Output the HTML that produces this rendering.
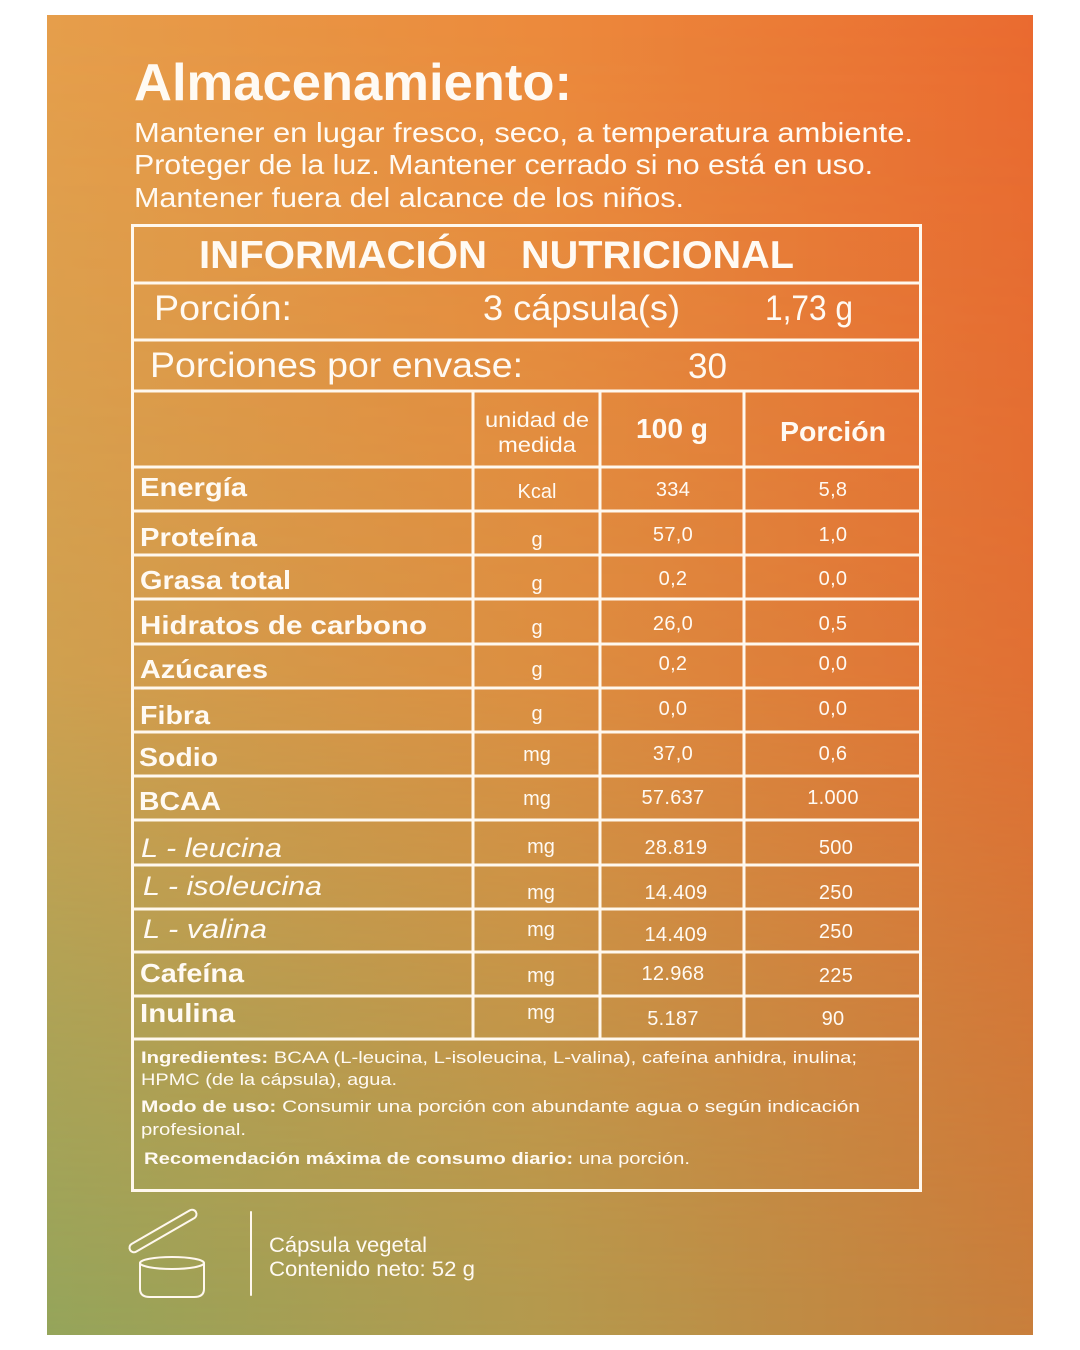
<!DOCTYPE html>
<html>
<head>
<meta charset="utf-8">
<style>
  html,body{margin:0;padding:0;background:#fff;}
  svg{display:block;}
  text{font-family:"Liberation Sans", sans-serif; fill:#FFFAF3;}
</style>
</head>
<body>
<svg width="1080" height="1350" viewBox="0 0 1080 1350" xmlns="http://www.w3.org/2000/svg">
  <defs>
    <linearGradient id="gTop" x1="0" y1="0" x2="1" y2="0">
      <stop offset="0" stop-color="#E69E4B"/>
      <stop offset="0.5" stop-color="#EC8A3C"/>
      <stop offset="1" stop-color="#EA6A30"/>
    </linearGradient>
    <linearGradient id="gBot" x1="0" y1="0" x2="1" y2="0">
      <stop offset="0" stop-color="#95A55B"/>
      <stop offset="0.5" stop-color="#B49A4E"/>
      <stop offset="1" stop-color="#C97F3C"/>
    </linearGradient>
    <linearGradient id="gMask" x1="0" y1="0" x2="0" y2="1">
      <stop offset="0" stop-color="#fff" stop-opacity="1"/>
      <stop offset="0.5" stop-color="#fff" stop-opacity="0.72"/>
      <stop offset="0.75" stop-color="#fff" stop-opacity="0.32"/>
      <stop offset="1" stop-color="#fff" stop-opacity="0"/>
    </linearGradient>
    <mask id="m" maskUnits="userSpaceOnUse" x="47" y="15" width="986" height="1320">
      <rect x="47" y="15" width="986" height="1320" fill="url(#gMask)"/>
    </mask>
  </defs>

  <rect x="0" y="0" width="1080" height="1350" fill="#ffffff"/>
  <rect x="47" y="15" width="986" height="1320" fill="url(#gBot)"/>
  <rect x="47" y="15" width="986" height="1320" fill="url(#gTop)" mask="url(#m)"/>

  <!-- Header text -->
  <text x="134" y="100" font-size="52" font-weight="bold" textLength="438" lengthAdjust="spacingAndGlyphs">Almacenamiento:</text>
  <text x="134" y="142" font-size="28" textLength="779" lengthAdjust="spacingAndGlyphs">Mantener en lugar fresco, seco, a temperatura ambiente.</text>
  <text x="134" y="174" font-size="28" textLength="739" lengthAdjust="spacingAndGlyphs">Proteger de la luz. Mantener cerrado si no está en uso.</text>
  <text x="134" y="207" font-size="28" textLength="550" lengthAdjust="spacingAndGlyphs">Mantener fuera del alcance de los niños.</text>

  <!-- Table lines -->
  <g stroke="#FFF8EE" stroke-width="3" fill="none">
    <rect x="132.5" y="225.5" width="788" height="965"/>
    <line x1="132" y1="283" x2="921" y2="283"/>
    <line x1="132" y1="340" x2="921" y2="340"/>
    <line x1="132" y1="391" x2="921" y2="391"/>
    <line x1="132" y1="467" x2="921" y2="467"/>
    <line x1="132" y1="511" x2="921" y2="511"/>
    <line x1="132" y1="555" x2="921" y2="555"/>
    <line x1="132" y1="599" x2="921" y2="599"/>
    <line x1="132" y1="644" x2="921" y2="644"/>
    <line x1="132" y1="688" x2="921" y2="688"/>
    <line x1="132" y1="732" x2="921" y2="732"/>
    <line x1="132" y1="776" x2="921" y2="776"/>
    <line x1="132" y1="820" x2="921" y2="820"/>
    <line x1="132" y1="865" x2="921" y2="865"/>
    <line x1="132" y1="909" x2="921" y2="909"/>
    <line x1="132" y1="952" x2="921" y2="952"/>
    <line x1="132" y1="996" x2="921" y2="996"/>
    <line x1="132" y1="1039" x2="921" y2="1039"/>
    <line x1="473" y1="391" x2="473" y2="1039"/>
    <line x1="600" y1="391" x2="600" y2="1039"/>
    <line x1="744" y1="391" x2="744" y2="1039"/>
  </g>

  <!-- Table title -->
  <text x="199" y="268" font-size="39" font-weight="bold" textLength="288" lengthAdjust="spacingAndGlyphs">INFORMACIÓN</text>
  <text x="521" y="268" font-size="39" font-weight="bold" textLength="273" lengthAdjust="spacingAndGlyphs">NUTRICIONAL</text>

  <text x="154" y="320" font-size="35" textLength="138" lengthAdjust="spacingAndGlyphs">Porción:</text>
  <text x="483" y="320" font-size="35" textLength="197" lengthAdjust="spacingAndGlyphs">3 cápsula(s)</text>
  <text x="765" y="320" font-size="35" textLength="88" lengthAdjust="spacingAndGlyphs">1,73 g</text>

  <text x="150" y="377" font-size="35" textLength="373" lengthAdjust="spacingAndGlyphs">Porciones por envase:</text>
  <text x="688" y="378" font-size="35" textLength="39" lengthAdjust="spacingAndGlyphs">30</text>

  <!-- Column headers -->
  <text x="485" y="427" font-size="21" textLength="104" lengthAdjust="spacingAndGlyphs">unidad de</text>
  <text x="498" y="452" font-size="21" textLength="78" lengthAdjust="spacingAndGlyphs">medida</text>
  <text x="636" y="438" font-size="28" font-weight="bold" textLength="72" lengthAdjust="spacingAndGlyphs">100 g</text>
  <text x="780" y="441" font-size="28" font-weight="bold" textLength="106" lengthAdjust="spacingAndGlyphs">Porción</text>

  <!-- Row names -->
  <g font-size="26" font-weight="bold">
    <text x="140" y="496" textLength="107" lengthAdjust="spacingAndGlyphs">Energía</text>
    <text x="140" y="546" textLength="117" lengthAdjust="spacingAndGlyphs">Proteína</text>
    <text x="140" y="589" textLength="151" lengthAdjust="spacingAndGlyphs">Grasa total</text>
    <text x="140" y="634" textLength="287" lengthAdjust="spacingAndGlyphs">Hidratos de carbono</text>
    <text x="140" y="678" textLength="128" lengthAdjust="spacingAndGlyphs">Azúcares</text>
    <text x="140" y="724" textLength="70" lengthAdjust="spacingAndGlyphs">Fibra</text>
    <text x="139" y="766" textLength="79" lengthAdjust="spacingAndGlyphs">Sodio</text>
    <text x="139" y="810" textLength="82" lengthAdjust="spacingAndGlyphs">BCAA</text>
    <text x="140" y="982" textLength="104" lengthAdjust="spacingAndGlyphs">Cafeína</text>
    <text x="140" y="1022" textLength="95" lengthAdjust="spacingAndGlyphs">Inulina</text>
  </g>
  <g font-size="27" font-style="italic">
    <text x="141" y="857" textLength="141" lengthAdjust="spacingAndGlyphs">L - leucina</text>
    <text x="143" y="895" textLength="179" lengthAdjust="spacingAndGlyphs">L - isoleucina</text>
    <text x="143" y="938" textLength="124" lengthAdjust="spacingAndGlyphs">L - valina</text>
  </g>

  <!-- Units -->
  <g font-size="20" text-anchor="middle">
    <text x="537" y="498">Kcal</text>
    <text x="537" y="546">g</text>
    <text x="537" y="590">g</text>
    <text x="537" y="634">g</text>
    <text x="537" y="676">g</text>
    <text x="537" y="720">g</text>
    <text x="537" y="761">mg</text>
    <text x="537" y="805">mg</text>
    <text x="541" y="853">mg</text>
    <text x="541" y="899">mg</text>
    <text x="541" y="936">mg</text>
    <text x="541" y="982">mg</text>
    <text x="541" y="1019">mg</text>
  </g>

  <!-- 100 g values -->
  <g font-size="20" text-anchor="middle" letter-spacing="0.3">
    <text x="673" y="496">334</text>
    <text x="673" y="541">57,0</text>
    <text x="673" y="585">0,2</text>
    <text x="673" y="630">26,0</text>
    <text x="673" y="670">0,2</text>
    <text x="673" y="715">0,0</text>
    <text x="673" y="760">37,0</text>
    <text x="673" y="804">57.637</text>
    <text x="676" y="854">28.819</text>
    <text x="676" y="899">14.409</text>
    <text x="676" y="941">14.409</text>
    <text x="673" y="980">12.968</text>
    <text x="673" y="1025">5.187</text>
  </g>

  <!-- Porción values -->
  <g font-size="20" text-anchor="middle" letter-spacing="0.3">
    <text x="833" y="496">5,8</text>
    <text x="833" y="541">1,0</text>
    <text x="833" y="585">0,0</text>
    <text x="833" y="630">0,5</text>
    <text x="833" y="670">0,0</text>
    <text x="833" y="715">0,0</text>
    <text x="833" y="760">0,6</text>
    <text x="833" y="804">1.000</text>
    <text x="836" y="854">500</text>
    <text x="836" y="899">250</text>
    <text x="836" y="938">250</text>
    <text x="836" y="982">225</text>
    <text x="833" y="1025">90</text>
  </g>

  <!-- Footer text -->
  <g font-size="17">
    <text x="141" y="1063" textLength="716" lengthAdjust="spacingAndGlyphs"><tspan font-weight="bold">Ingredientes:</tspan> BCAA (L-leucina, L-isoleucina, L-valina), cafeína anhidra, inulina;</text>
    <text x="141" y="1085" textLength="256" lengthAdjust="spacingAndGlyphs">HPMC (de la cápsula), agua.</text>
    <text x="141" y="1112" textLength="719" lengthAdjust="spacingAndGlyphs"><tspan font-weight="bold">Modo de uso:</tspan> Consumir una porción con abundante agua o según indicación</text>
    <text x="141" y="1135" textLength="105" lengthAdjust="spacingAndGlyphs">profesional.</text>
    <text x="144" y="1164" textLength="546" lengthAdjust="spacingAndGlyphs"><tspan font-weight="bold">Recomendación máxima de consumo diario:</tspan> una porción.</text>
  </g>

  <!-- Jar icon -->
  <g stroke="#FFF8EE" stroke-width="2" fill="none" stroke-linecap="round" stroke-linejoin="round">
    <rect x="-38" y="-4.5" width="76" height="9" rx="4.5" transform="translate(163,1231) rotate(-30)"/>
    <ellipse cx="172" cy="1263" rx="32" ry="6"/>
    <path d="M140,1263 L140,1289 Q140,1297 150,1297 L194,1297 Q204,1297 204,1289 L204,1263"/>
    <line x1="251" y1="1212" x2="251" y2="1295"/>
  </g>

  <text x="269" y="1252" font-size="21" textLength="158" lengthAdjust="spacingAndGlyphs">Cápsula vegetal</text>
  <text x="269" y="1276" font-size="21" textLength="206" lengthAdjust="spacingAndGlyphs">Contenido neto: 52 g</text>
</svg>
</body>
</html>
